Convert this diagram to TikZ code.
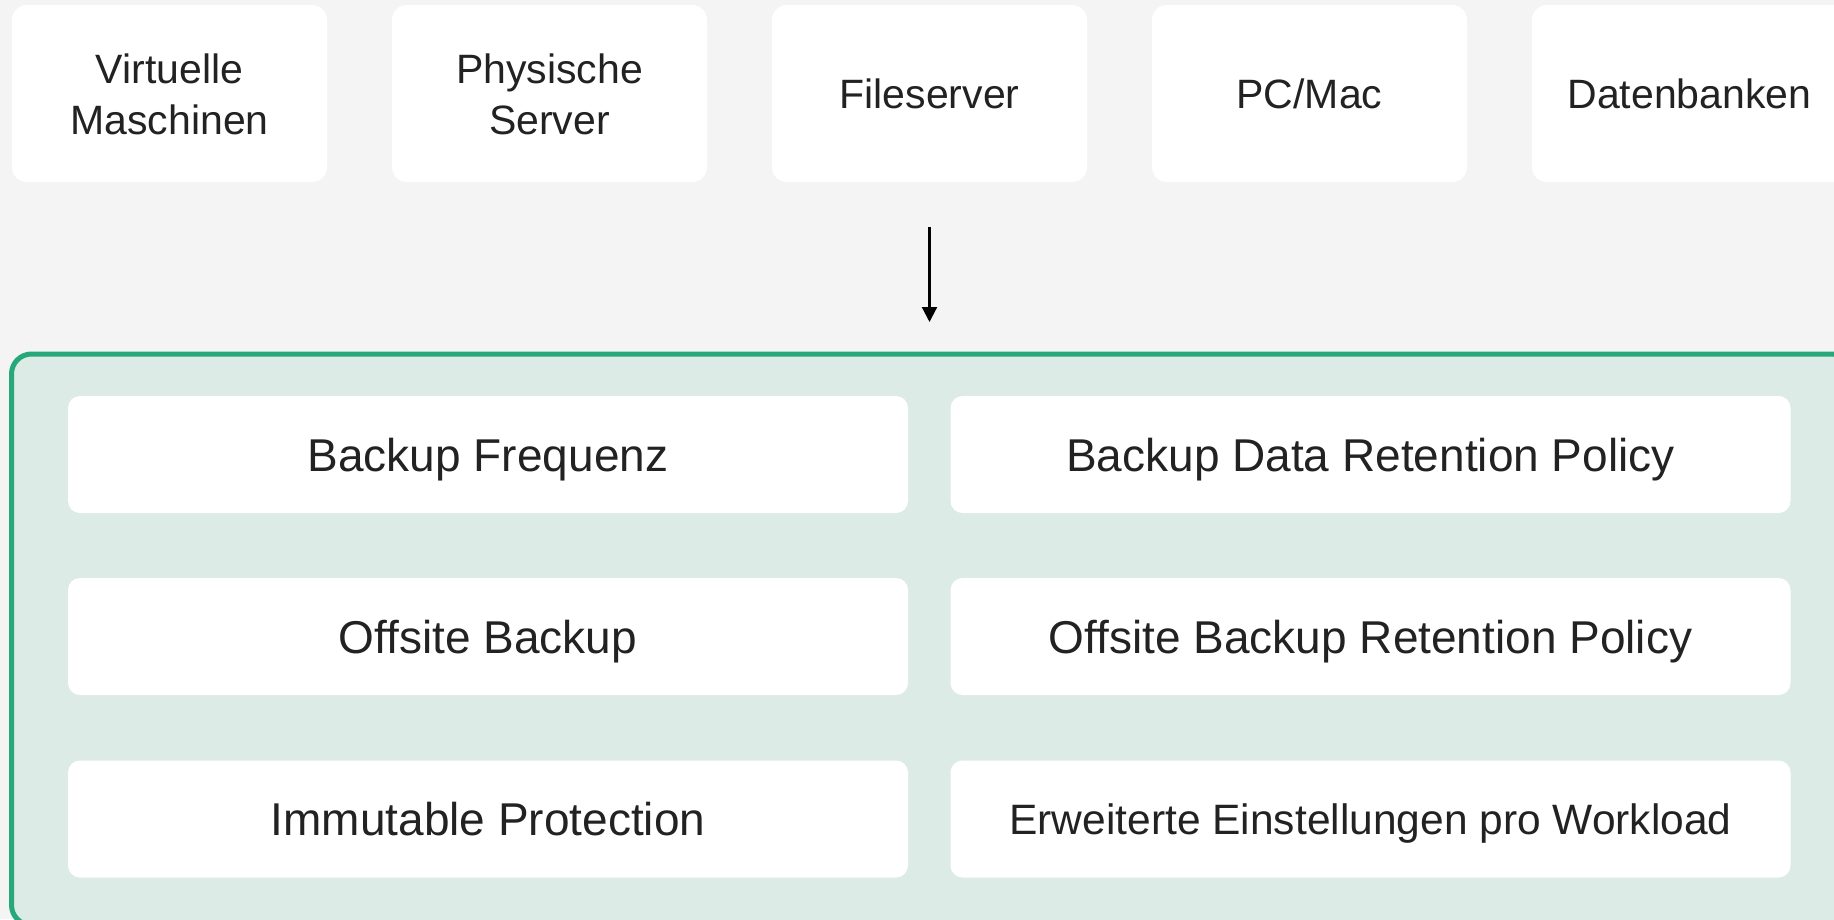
\documentclass[tikz,border=0pt]{standalone}
\usepackage{fontspec}
\setmainfont{Liberation Sans}
\usetikzlibrary{arrows.meta}
\definecolor{bgc}{HTML}{F4F4F4}
\definecolor{greenline}{HTML}{26A87A}
\definecolor{greenfill}{HTML}{DCEBE5}
\definecolor{txt}{HTML}{222222}
\tikzset{
  srcbox/.style={fill=white, draw=none, rounded corners=15pt, minimum width=315pt, minimum height=177pt, inner sep=0pt, outer sep=0pt, align=center, text=txt, font=\fontsize{41}{51}\selectfont},
  srcone/.style={srcbox, text height=29.5pt, text depth=0pt},
  featbox/.style={fill=white, draw=none, rounded corners=12pt, minimum width=840pt, minimum height=117pt, inner sep=0pt, outer sep=0pt, align=center, text=txt, font=\fontsize{46}{52}\selectfont, text height=33pt, text depth=0pt},
  featsmall/.style={featbox, font=\fontsize{42.5}{50}\selectfont, text height=30.5pt},
  container/.style={fill=greenfill, draw=greenline, line width=5pt, rounded corners=20pt, minimum width=1840pt, minimum height=571pt, inner sep=0pt},
  flow/.style={line width=2.2pt, -{Triangle[length=15pt,width=15pt]}}
}
\begin{document}
\begin{tikzpicture}[x=1pt,y=-1pt]
\useasboundingbox (0,0) rectangle (1834,919);
\fill[bgc] (0,0) rectangle (1834,919);
\node[srcbox] (vm) at (169.5,93.5) {\rule{0pt}{31pt}Virtuelle\\Maschinen};
\node[srcbox] (ps) at (549.5,93.5) {\rule{0pt}{31pt}Physische\\Server};
\node[srcone] (fs) at (929.5,93.5) {Fileserver};
\node[srcone] (pc) at (1309.5,93.5) {PC/Mac};
\node[srcone] (db) at (1689.5,93.5) {Datenbanken};
\node[container] (cont) at (931.5,639.5) {};
\draw[flow, shorten <=45pt, shorten >=29.5pt] (fs.south) -- (fs.south |- cont.north);
\node[featbox] (bf) at (488,454.5) {Backup Frequenz};
\node[featbox] (br) at (1370.5,454.5) {Backup Data Retention Policy};
\node[featbox] (ob) at (488,636.5) {Offsite Backup};
\node[featbox] (or) at (1370.5,636.5) {Offsite Backup Retention Policy};
\node[featbox] (ip) at (488,819) {Immutable Protection};
\node[featsmall] (ee) at (1370.5,819) {Erweiterte Einstellungen pro Workload};
\end{tikzpicture}
\end{document}
